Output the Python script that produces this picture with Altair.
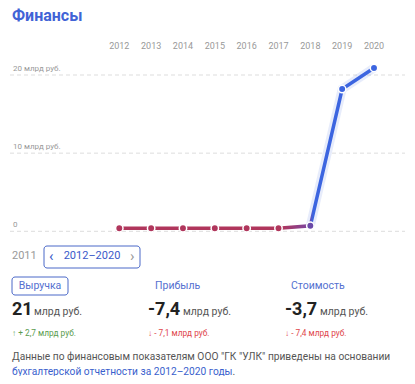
import altair as alt
import pandas as pd

years = [2012, 2013, 2014, 2015, 2016, 2017, 2018, 2019, 2020]
revenue = [0.4, 0.4, 0.4, 0.4, 0.4, 0.4, 0.7, 18.2, 20.9]
grid_values = [0, 10, 20]
grid_labels = ["0", "10 млрд руб.", "20 млрд руб."]

df = pd.DataFrame({"year": years, "value": revenue})
gdf = pd.DataFrame({"value": grid_values, "label": grid_labels})
one = pd.DataFrame({"a": [0]})

PAD_TOP = 6
OX, OY = 8, 8 + PAD_TOP  # page margin + top padding offset
xs = alt.Scale(domain=[2012, 2020], range=[119.3 - OX, 374 - OX])
ys = alt.Scale(domain=[0, 20], range=[231.3 - OY, 75 - OY])

FONT = "Roboto"
BLUE = "#3c65e0"
RED = "#b0365c"


def txt(text, x, y, **kw):
    params = dict(font=FONT, baseline="middle", align="left")
    params.update(kw)
    return alt.Chart(one).mark_text(**params).encode(
        x=alt.value(x - OX), y=alt.value(y - OY), text=alt.value(text)
    )


def box(x1, x2, y1, y2, color):
    return alt.Chart(one).mark_rect(
        fill="white", stroke=color, strokeWidth=1, cornerRadius=3
    ).encode(
        x=alt.value(x1 - OX), x2=alt.value(x2 - OX),
        y=alt.value(y1 - OY), y2=alt.value(y2 - OY)
    )


grid = alt.Chart(gdf).mark_rule(
    color="#dddddd", strokeDash=[4, 3], strokeWidth=1
).encode(
    y=alt.Y("value:Q", scale=ys, axis=None),
    x=alt.value(10 - OX), x2=alt.value(405 - OX)
)

grid_text = alt.Chart(gdf).mark_text(
    font=FONT, fontSize=8, color="#999999", align="left", baseline="bottom", dy=-2
).encode(
    y=alt.Y("value:Q", scale=ys, axis=None),
    x=alt.value(13 - OX),
    text="label:N"
)

year_text = alt.Chart(df).mark_text(
    font=FONT, fontSize=9, color="#999999", align="center", baseline="middle"
).encode(
    x=alt.X("year:Q", scale=xs, axis=None),
    y=alt.value(46 - OY),
    text=alt.Text("year:N")
)

glow = alt.Chart(df).transform_filter("datum.year >= 2018").mark_line(
    color=BLUE, strokeWidth=9, opacity=0.12
).encode(
    x=alt.X("year:Q", scale=xs, axis=None),
    y=alt.Y("value:Q", scale=ys, axis=None)
)

line = alt.Chart(df).mark_line(
    strokeWidth=3.5,
    color=alt.Gradient(
        gradient="linear",
        stops=[
            alt.GradientStop(color=RED, offset=0),
            alt.GradientStop(color=RED, offset=0.64),
            alt.GradientStop(color="#7a46a2", offset=0.745),
            alt.GradientStop(color=BLUE, offset=0.76),
            alt.GradientStop(color=BLUE, offset=1),
        ],
        x1=0, x2=1, y1=0, y2=0,
    ),
).encode(
    x=alt.X("year:Q", scale=xs, axis=None),
    y=alt.Y("value:Q", scale=ys, axis=None)
)

points = alt.Chart(df).transform_calculate(
    c="datum.year >= 2019 ? '%s' : (datum.year == 2018 ? '#6a4aa8' : '%s')" % (BLUE, RED)
).mark_point(
    filled=True, size=55, stroke="white", strokeWidth=1.5, opacity=1
).encode(
    x=alt.X("year:Q", scale=xs, axis=None),
    y=alt.Y("value:Q", scale=ys, axis=None),
    fill=alt.Fill("c:N", scale=None)
)

layers = [
    grid, grid_text, year_text, glow, line, points,
    txt("Финансы", 12, 20.5, fontSize=16, fontWeight="bold", color="#4163d6", baseline="alphabetic"),
    txt("2011", 12, 256, fontSize=11, color="#999999"),
    box(44, 140, 246, 268, "#4a68c8"),
    txt("‹", 49, 256, fontSize=15, color="#3a59c9"),
    txt("2012–2020", 92, 256, fontSize=11, color="#3a59c9", align="center"),
    txt("›", 130, 256, fontSize=15, color="#999999"),
    box(12, 68, 277, 295, "#4a68c8"),
    txt("Выручка", 40, 286, fontSize=10.5, color="#5470d0", align="center"),
    txt("Прибыль", 155, 286, fontSize=10.5, color="#5470d0"),
    txt("Стоимость", 291, 286, fontSize=10.5, color="#5470d0"),
    txt("21", 12, 315, fontSize=18, fontWeight="bold", color="#222222", baseline="alphabetic"),
    txt("млрд руб.", 34, 315, fontSize=10.5, color="#555555", baseline="alphabetic"),
    txt("-7,4", 148, 315, fontSize=18, fontWeight="bold", color="#222222", baseline="alphabetic"),
    txt("млрд руб.", 183, 315, fontSize=10.5, color="#555555", baseline="alphabetic"),
    txt("-3,7", 285, 315, fontSize=18, fontWeight="bold", color="#222222", baseline="alphabetic"),
    txt("млрд руб.", 320, 315, fontSize=10.5, color="#555555", baseline="alphabetic"),
    txt("↑ + 2,7 млрд руб.", 12, 334, fontSize=8.3, color="#5a9c4e"),
    txt("↓ - 7,1 млрд руб.", 148, 334, fontSize=8.3, color="#e0464b"),
    txt("↓ - 7,4 млрд руб.", 285, 334, fontSize=8.3, color="#e0464b"),
    txt('Данные по финансовым показателям ООО "ГК "УЛК" приведены на основании',
        12, 357, fontSize=10.2, color="#555555"),
    txt("бухгалтерской отчетности за 2012–2020 годы", 12, 372, fontSize=10.2, color="#3a5fcd"),
    txt(".", 232.5, 372, fontSize=10.2, color="#555555"),
]

chart = alt.layer(*layers).properties(
    width=399, height=362,
    padding={"top": PAD_TOP, "left": 0, "right": 0, "bottom": 0},
    autosize=alt.AutoSizeParams(type="none"),
).configure_view(stroke=None)

chart.save("out.html", embed_options={"renderer": "svg", "actions": False})
